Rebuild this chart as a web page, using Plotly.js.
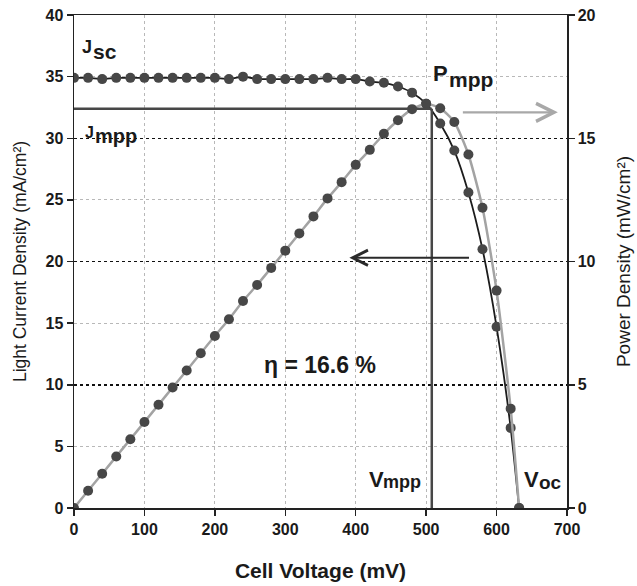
<!DOCTYPE html>
<html>
<head>
<meta charset="utf-8">
<script src="https://cdn.plot.ly/plotly-3.0.1.min.js"></script>
<style>html,body{margin:0;padding:0;background:#fff;}#chart{width:637px;height:586px;}</style>
</head>
<body>
<div id="chart"></div>
<script>
// Cell voltage (mV)
var voltage = [0,20,40,60,80,100,120,140,160,180,200,220,240,260,280,300,320,340,360,380,400,420,440,460,480,500,520,540,560,580,600,620,632];
// Light current density (mA/cm²)
var currentDensity = [34.9,34.9,34.8,34.9,34.9,34.9,34.9,34.9,34.9,34.9,34.9,34.8,35.0,34.8,34.8,34.8,34.8,34.8,34.9,34.8,34.8,34.6,34.5,34.2,33.7,32.8,31.2,29.0,25.6,21.0,14.7,6.5,0];
// Power density (mW/cm²)
var powerDensity = [0,0.70,1.39,2.09,2.79,3.49,4.19,4.89,5.58,6.28,6.98,7.66,8.40,9.05,9.74,10.44,11.14,11.83,12.56,13.22,13.92,14.53,15.18,15.73,16.18,16.40,16.22,15.66,14.34,12.18,8.82,4.03,0];
// Maximum power point
var vMpp = 508;
var jMpp = 32.4;
var efficiencyLabel = "η = 16.6 %";

var FONT = "Liberation Sans, Arial, sans-serif";
var markerColor = "#474747";
var textColor = "#1a1a1a";

var traces = [
  {
    x: voltage, y: powerDensity, yaxis: "y2", type: "scatter", mode: "lines+markers",
    line: {color: "#a3a3a3", width: 2.5, shape: "spline", smoothing: 0.6},
    marker: {color: markerColor, size: 10},
    hoverinfo: "none", showlegend: false
  },
  {
    x: voltage, y: currentDensity, yaxis: "y", type: "scatter", mode: "lines+markers",
    line: {color: "#1c1c1c", width: 1.8, shape: "spline", smoothing: 0.6},
    marker: {color: markerColor, size: 10},
    hoverinfo: "none", showlegend: false
  }
];

function txt(text, x, y, size, xanchor) {
  return {
    x: x, y: y, xref: "x", yref: "y", showarrow: false, xanchor: xanchor, yanchor: "middle",
    text: text, borderpad: 0,
    font: {family: FONT, size: size, color: textColor, weight: "bold"}
  };
}

var layout = {
  width: 637, height: 586,
  margin: {l: 74, r: 70, t: 15, b: 78},
  paper_bgcolor: "#ffffff", plot_bgcolor: "#ffffff",
  font: {family: FONT, color: textColor},
  xaxis: {
    range: [0, 700], dtick: 100, tick0: 0,
    showline: true, linecolor: "#222", linewidth: 1.5, mirror: true,
    ticks: "outside", ticklen: 6, tickwidth: 1.5, tickcolor: "#222",
    showgrid: true, gridcolor: "#b8b8b8", griddash: "dot", gridwidth: 1,
    zeroline: false,
    tickfont: {family: FONT, size: 16, color: textColor, weight: "bold"},
    title: {text: "Cell Voltage (mV)", standoff: 26, font: {family: FONT, size: 21, color: textColor, weight: "bold"}}
  },
  yaxis: {
    range: [0, 40], dtick: 5, tick0: 0,
    showline: true, linecolor: "#222", linewidth: 1.5,
    ticks: "outside", ticklen: 6, tickwidth: 1.5, tickcolor: "#222",
    showgrid: true, gridcolor: "#b8b8b8", griddash: "dot", gridwidth: 1,
    zeroline: false,
    tickfont: {family: FONT, size: 16, color: textColor, weight: "bold"},
    title: {text: "Light Current Density (mA/cm²)", standoff: 14, font: {family: FONT, size: 17.5, color: textColor}}
  },
  yaxis2: {
    range: [0, 20], dtick: 5, tick0: 0, overlaying: "y", side: "right",
    showline: true, linecolor: "#222", linewidth: 1.5,
    ticks: "outside", ticklen: 6, tickwidth: 1.5, tickcolor: "#222",
    showgrid: true, gridcolor: "#111", griddash: "dot", gridwidth: 1.5,
    zeroline: false,
    tickfont: {family: FONT, size: 16, color: textColor, weight: "bold"},
    title: {text: "Power Density (mW/cm²)", standoff: 22, font: {family: FONT, size: 19, color: textColor}}
  },
  shapes: [
    {type: "line", xref: "x", yref: "y", x0: 0, x1: vMpp, y0: jMpp, y1: jMpp, line: {color: "#474747", width: 2.5}},
    {type: "line", xref: "x", yref: "y", x0: vMpp, x1: vMpp, y0: 0, y1: jMpp, line: {color: "#474747", width: 2.5}}
  ],
  annotations: [
    txt("J", 26.5, 37.4, 18, "right"),
    txt("sc", 25.5, 37.0, 21, "left"),
    txt("J", 30.5, 30.5, 16, "right"),
    txt("mpp", 28.5, 30.2, 20, "left"),
    txt("P", 532.5, 35.25, 22, "right"),
    txt("mpp", 530.5, 34.78, 21, "left"),
    txt("V", 441.5, 2.35, 22, "right"),
    txt("mpp", 438.0, 2.12, 18, "left"),
    txt("V", 662, 2.35, 22, "right"),
    txt("oc", 659, 2.05, 19, "left"),
    txt(efficiencyLabel, 349, 11.6, 23, "center"),
    {x: 687, y: 32.1, ax: 550, ay: 32.1, xref: "x", yref: "y", axref: "x", ayref: "y",
     text: "", showarrow: true, arrowhead: 5, arrowsize: 1.6, arrowwidth: 2.2, arrowcolor: "#a8a8a8", standoff: 0},
    {x: 391, y: 20.3, ax: 563, ay: 20.3, xref: "x", yref: "y", axref: "x", ayref: "y",
     text: "", showarrow: true, arrowhead: 5, arrowsize: 1.5, arrowwidth: 2, arrowcolor: "#2a2a2a", standoff: 0}
  ]
};

Plotly.newPlot("chart", traces, layout, {displayModeBar: false, staticPlot: true});
</script>
</body>
</html>
